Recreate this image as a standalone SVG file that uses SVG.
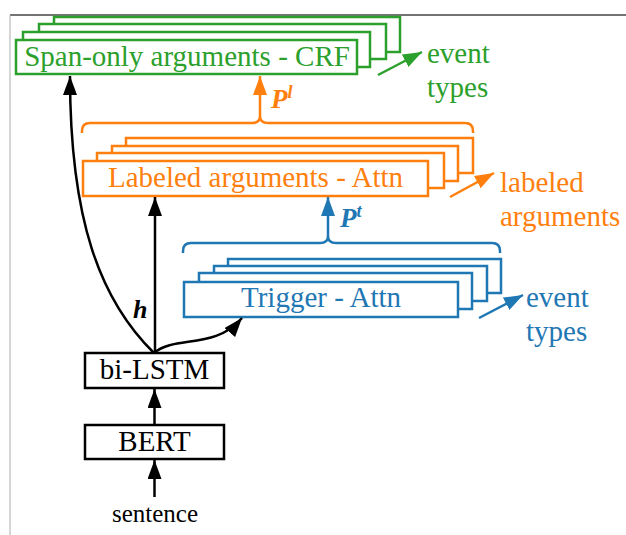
<svg xmlns="http://www.w3.org/2000/svg" width="626" height="535" viewBox="0 0 626 535">
  <defs>
    <style>
      text { font-family: 'Liberation Serif', 'DejaVu Serif', serif; }
      .lbl { font-size: 29px; }
      .small { font-size: 25px; }
      .sym { font-weight: bold; font-style: italic; }
      .g { fill: #2ca02c; }
      .o { fill: #ff7f0e; }
      .b { fill: #1f77b4; }
      .k { fill: #000000; }
      .box { fill: #ffffff; stroke-width: 2.5; }
      .gs { stroke: #2ca02c; }
      .os { stroke: #ff7f0e; }
      .bs { stroke: #1f77b4; }
      .ks { stroke: #000000; }
      .line { fill: none; stroke-width: 2.5; }
    </style>
    <marker id="ahK" markerUnits="userSpaceOnUse" markerWidth="19" markerHeight="14" refX="19" refY="7" orient="auto" viewBox="0 0 19 14">
      <path d="M0,0 L19,7 L0,14 Z" fill="#000000"/>
    </marker>
    <marker id="ahG" markerUnits="userSpaceOnUse" markerWidth="19" markerHeight="14" refX="19" refY="7" orient="auto" viewBox="0 0 19 14">
      <path d="M0,0 L19,7 L0,14 Z" fill="#2ca02c"/>
    </marker>
    <marker id="ahO" markerUnits="userSpaceOnUse" markerWidth="19" markerHeight="14" refX="19" refY="7" orient="auto" viewBox="0 0 19 14">
      <path d="M0,0 L19,7 L0,14 Z" fill="#ff7f0e"/>
    </marker>
    <marker id="ahB" markerUnits="userSpaceOnUse" markerWidth="19" markerHeight="14" refX="19" refY="7" orient="auto" viewBox="0 0 19 14">
      <path d="M0,0 L19,7 L0,14 Z" fill="#1f77b4"/>
    </marker>
  </defs>

  <rect x="0" y="0" width="626" height="535" fill="#ffffff"/>
  <!-- page frame -->
  <line x1="10" y1="15" x2="626" y2="15" stroke="#444444" stroke-width="1.5"/>
  <line x1="10" y1="15" x2="10" y2="535" stroke="#bbbbbb" stroke-width="1.2"/>

  <!-- span-only arguments (CRF) stack -->
  <g id="crf">
    <rect class="box gs" x="54" y="17" width="346" height="35"/>
    <rect class="box gs" x="39" y="24" width="347" height="35"/>
    <rect class="box gs" x="23" y="32" width="347" height="35"/>
    <rect class="box gs" x="16" y="40" width="341" height="34"/>
    <text class="lbl g" x="187" y="65.5" text-anchor="middle">Span-only arguments - CRF</text>
  </g>
  <g id="crf-out">
    <text class="lbl g" x="427" y="63">event</text>
    <text class="lbl g" x="427" y="97">types</text>
  </g>

  <!-- labeled arguments (attention) stack -->
  <g id="arg">
    <rect class="box os" x="126" y="138" width="347" height="35"/>
    <rect class="box os" x="112" y="146" width="346" height="35"/>
    <rect class="box os" x="97" y="153" width="347" height="35"/>
    <rect class="box os" x="83" y="161" width="345" height="35"/>
    <text class="lbl o" x="255.5" y="187" text-anchor="middle">Labeled arguments - Attn</text>
  </g>
  <g id="arg-out">
    <text class="lbl o" x="500" y="192">labeled</text>
    <text class="lbl o" x="500" y="226">arguments</text>
  </g>

  <!-- trigger (attention) stack -->
  <g id="trigger">
    <rect class="box bs" x="228" y="259" width="273" height="34"/>
    <rect class="box bs" x="214" y="266" width="273" height="35"/>
    <rect class="box bs" x="199" y="273" width="273" height="36"/>
    <rect class="box bs" x="184" y="282" width="274" height="35"/>
    <text class="lbl b" x="321" y="307" text-anchor="middle">Trigger - Attn</text>
  </g>
  <g id="trigger-out">
    <text class="lbl b" x="526" y="307">event</text>
    <text class="lbl b" x="526" y="341">types</text>
  </g>

  <!-- encoder -->
  <g id="bilstm">
    <rect class="box ks" x="85" y="353" width="139" height="35"/>
    <text class="lbl k" x="154.5" y="379" text-anchor="middle">bi-LSTM</text>
  </g>
  <g id="bert">
    <rect class="box ks" x="85" y="425" width="139" height="34"/>
    <text class="lbl k" x="154.5" y="451" text-anchor="middle">BERT</text>
  </g>
  <g id="sentence">
    <text class="small k" x="155" y="522" text-anchor="middle">sentence</text>
  </g>

  <!-- connectors -->
  <g id="connectors">
    <line class="line ks" x1="154.5" y1="497" x2="154.5" y2="460" marker-end="url(#ahK)"/>
    <line class="line ks" x1="154.5" y1="425" x2="154.5" y2="389" marker-end="url(#ahK)"/>
    <line class="line ks" x1="155" y1="353" x2="155" y2="197" marker-end="url(#ahK)"/>
    <path class="line ks" d="M154,353 C100,300 70,220 70,76" marker-end="url(#ahK)"/>
    <path class="line ks" d="M154,353 C175,335 215,350 242,318" marker-end="url(#ahK)"/>
    <text class="sym k" x="133" y="318" font-size="26">h</text>

    <!-- output arrows -->
    <line class="line gs" x1="378" y1="75" x2="422" y2="52" marker-end="url(#ahG)"/>
    <line class="line os" x1="450" y1="197" x2="494" y2="173" marker-end="url(#ahO)"/>
    <line class="line bs" x1="479" y1="318" x2="523" y2="295" marker-end="url(#ahB)"/>

    <!-- brace over labeled arguments feeding CRF -->
    <path class="line os" d="M82,133 L82,131 Q82,123 90,123 L252,123 Q260,123 260,116 Q260,123 268,123 L465,123 Q473,123 473,131 L473,133"/>
    <line class="line os" x1="260" y1="116" x2="260" y2="76" marker-end="url(#ahO)"/>
    <text class="sym o" x="271" y="108" font-size="27">P<tspan font-size="18" dy="-10">l</tspan></text>

    <!-- brace over trigger feeding labeled arguments -->
    <path class="line bs" d="M183,253 L183,251 Q183,243 191,243 L320,243 Q328,243 328,236 Q328,243 336,243 L492,243 Q500,243 500,251 L500,253"/>
    <line class="line bs" x1="328" y1="236" x2="328" y2="197" marker-end="url(#ahB)"/>
    <text class="sym b" x="340" y="227" font-size="27">P<tspan font-size="18" dy="-10">t</tspan></text>
  </g>
</svg>
